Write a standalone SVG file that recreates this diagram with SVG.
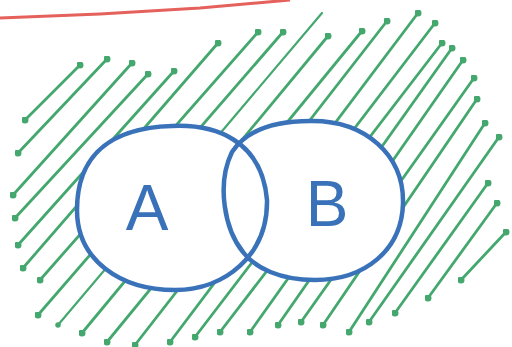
<svg xmlns="http://www.w3.org/2000/svg" width="512" height="347" viewBox="0 0 512 347">
<style>
.hatch line{stroke:#44a86e;stroke-width:2.8;stroke-linecap:round;fill:none;marker-start:url(#dot);marker-end:url(#dot)}
.hatch line.nd{marker-end:none;stroke-width:2.2}
.set{fill:none;stroke:#3a72ba;stroke-width:4.5;stroke-linejoin:round}
.lbl{font-family:"Liberation Sans",Arial,sans-serif;font-size:64px;fill:#3a72ba;text-anchor:middle}
</style>
<defs>
<marker id="dot" viewBox="-3 -3 6 6" markerWidth="2.5" markerHeight="2.5" markerUnits="strokeWidth" refX="0" refY="0">
<circle r="3" fill="#44a86e"/>
</marker>
<path id="shapeA" d="M172,126 C215,124 262,140 267,200 C268,255 225,290 175,290 C120,290 77,260 77,210 C77,165 100,128 172,126 Z"/>
<path id="shapeB" d="M310,121 C365,120 404,155 403,203 C402,250 365,280 315,280 C280,280 255,268 243,252 C225,230 216,185 232,152 C248,128 280,121 310,121 Z"/>
<mask id="outside" maskUnits="userSpaceOnUse" x="0" y="0" width="512" height="347">
<rect width="512" height="347" fill="#fff"/>
<use href="#shapeA" fill="#000"/>
<use href="#shapeB" fill="#000"/>
</mask>
</defs>
<rect width="512" height="347" fill="#fff"/>
<path d="M0,18 L100,14 L200,8 L290,0" fill="none" stroke="#e5615c" stroke-width="3"/>
<g id="connectors" class="hatch" mask="url(#outside)">
<line x1="25" y1="120" x2="80" y2="65"/>
<line x1="18" y1="153" x2="107" y2="59"/>
<line x1="13" y1="195" x2="132" y2="63"/>
<line x1="15" y1="218" x2="148" y2="74"/>
<line x1="18" y1="245" x2="174" y2="71"/>
<line x1="23" y1="268" x2="218" y2="43"/>
<line x1="40" y1="280" x2="258" y2="32"/>
<line x1="38" y1="315" x2="283" y2="32"/>
<line class="nd" x1="58" y1="325" x2="322" y2="13"/>
<line x1="82" y1="333" x2="328" y2="36"/>
<line x1="107" y1="342" x2="362" y2="31"/>
<line x1="135" y1="345" x2="387" y2="21"/>
<line x1="170" y1="342" x2="418" y2="13"/>
<line x1="195" y1="337" x2="435" y2="23"/>
<line x1="220" y1="332" x2="442" y2="43"/>
<line x1="250" y1="332" x2="452" y2="48"/>
<line x1="278" y1="325" x2="463" y2="60"/>
<line x1="301" y1="322" x2="474" y2="78"/>
<line x1="323" y1="325" x2="477" y2="99"/>
<line x1="349" y1="332" x2="485" y2="123"/>
<line x1="369" y1="322" x2="499" y2="137"/>
<line x1="395" y1="313" x2="488" y2="183"/>
<line x1="428" y1="298" x2="497" y2="203"/>
<line x1="461" y1="280" x2="506" y2="232"/>
</g>
<g id="setA">
<use href="#shapeA" class="set"/>
<text class="lbl" x="147" y="230">A</text>
</g>
<g id="setB">
<use href="#shapeB" class="set"/>
<text class="lbl" x="327" y="226">B</text>
</g>
</svg>
